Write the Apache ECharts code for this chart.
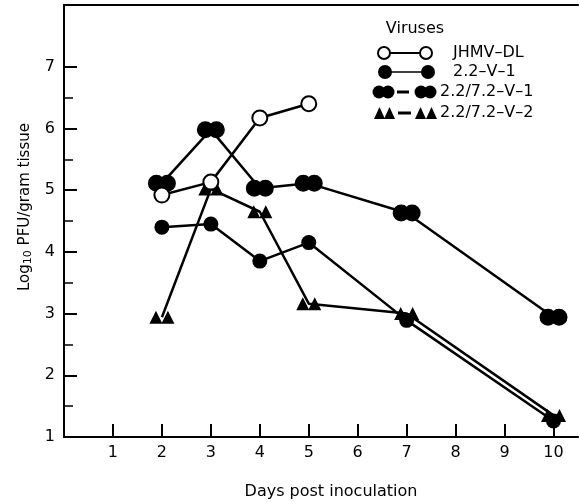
<!DOCTYPE html>
<html>
<head>
<meta charset="utf-8">
<script src="https://cdn.jsdelivr.net/npm/echarts@6/dist/echarts.min.js"></script>
<style>
  html, body { margin: 0; padding: 0; background: #fff; }
  #chart { width: 579px; height: 502px; }
</style>
</head>
<body>
<div id="chart"></div>
<script>
// days post inoculation
const days = [2, 3, 4, 5, 7, 10];
const jhmvDays = [2, 3, 4, 5];
// log10 PFU / gram tissue
const jhmvDL = [4.92, 5.13, 6.17, 6.4];
const v22_1 = [4.4, 4.45, 3.85, 4.15, 2.89, 1.26];
const v7221 = [5.11, 5.98, 5.03, 5.11, 4.63, 2.94];
const v7222 = [2.94, 5.02, 4.65, 3.16, 3.0, 1.35];

const xTicks = [1, 2, 3, 4, 5, 6, 7, 8, 9, 10];
const yTicks = [1, 2, 3, 4, 5, 6, 7];
const yHalfTicks = [1.5, 2.5, 3.5, 4.5, 5.5, 6.5];

const legendNames = ['JHMV–DL', '2.2–V–1', '2.2/7.2–V–1', '2.2/7.2–V–2'];

const FONT = 'DejaVu Sans';
const DOUBLE_CIRCLE = 'path://M0,10A10,10,0,1,0,20,10A10,10,0,1,0,0,10ZM13,10A10,10,0,1,0,33,10A10,10,0,1,0,13,10Z';
const DOUBLE_TRI = 'path://M0,12L6,0L12,12ZM11,12L17,0L23,12Z';

const pairs = (xs, ys) => xs.map((x, i) => [x, ys[i]]);

const chart = echarts.init(document.getElementById('chart'));

const lineStyle = { color: '#000', width: 2.5 };
const legendText = (x, y, text) => ({
  type: 'text', x: x, y: y,
  style: { text: text, fontSize: 16, fontFamily: FONT, fill: '#000', verticalAlign: 'middle' }
});

const option = {
  animation: false,
  grid: { left: 64, right: 1, top: 5, bottom: 65 },
  xAxis: [
    {
      type: 'value', min: 0, max: 10.5,
      axisLine: { lineStyle: { color: '#000', width: 2 } },
      axisTick: { inside: true, length: 13, customValues: xTicks, lineStyle: { color: '#000', width: 2 } },
      axisLabel: { customValues: xTicks, margin: 8, color: '#000', fontSize: 16, fontFamily: FONT },
      splitLine: { show: false }
    },
    {
      type: 'value', min: 0, max: 10.5, position: 'top',
      axisLine: { show: true, lineStyle: { color: '#000', width: 2 } },
      axisTick: { show: false },
      axisLabel: { show: false },
      splitLine: { show: false }
    }
  ],
  yAxis: [
    {
      type: 'value', min: 1, max: 8,
      axisLine: { show: true, lineStyle: { color: '#000', width: 2 } },
      axisTick: { show: true, inside: true, length: 13, customValues: yTicks, lineStyle: { color: '#000', width: 2 } },
      axisLabel: { customValues: yTicks, margin: 9, color: '#000', fontSize: 16, fontFamily: FONT },
      splitLine: { show: false }
    },
    {
      // half-unit ticks
      type: 'value', min: 1, max: 8, position: 'left',
      axisLine: { show: false },
      axisTick: { show: true, inside: true, length: 9, customValues: yHalfTicks, lineStyle: { color: '#000', width: 1.5 } },
      axisLabel: { show: false },
      splitLine: { show: false }
    }
  ],
  series: [
    {
      name: legendNames[2], type: 'line', data: pairs(days, v7221),
      symbol: DOUBLE_CIRCLE, symbolSize: [28, 17], symbolKeepAspect: false,
      itemStyle: { color: '#000' }, lineStyle
    },
    {
      name: legendNames[3], type: 'line', data: pairs(days, v7222),
      symbol: DOUBLE_TRI, symbolSize: [25, 13], symbolKeepAspect: false,
      itemStyle: { color: '#000' }, lineStyle
    },
    {
      name: legendNames[1], type: 'line', data: pairs(days, v22_1),
      symbol: 'circle', symbolSize: 15,
      itemStyle: { color: '#000' }, lineStyle
    },
    {
      name: legendNames[0], type: 'line', data: pairs(jhmvDays, jhmvDL),
      symbol: 'circle', symbolSize: 15,
      itemStyle: { color: '#fff', borderColor: '#000', borderWidth: 2 }, lineStyle
    }
  ],
  graphic: [
    {
      type: 'text', x: 25, y: 207, rotation: Math.PI / 2,
      style: {
        text: '{a|Log}{b|10}{a| PFU/gram tissue}',
        align: 'center', verticalAlign: 'middle', fill: '#000',
        rich: {
          a: { fontSize: 15, lineHeight: 17, fontFamily: FONT },
          b: { fontSize: 11, lineHeight: 12, verticalAlign: 'bottom', fontFamily: FONT }
        }
      }
    },
    {
      type: 'text', x: 331, y: 492,
      style: { text: 'Days post inoculation', fontSize: 16, fontFamily: FONT, fill: '#000', align: 'center', verticalAlign: 'middle' }
    },
    // legend
    { type: 'text', x: 415, y: 29, style: { text: 'Viruses', fontSize: 16, fontFamily: FONT, fill: '#000', align: 'center', verticalAlign: 'middle' } },
    { type: 'line', shape: { x1: 390, y1: 53, x2: 420, y2: 53 }, style: { stroke: '#000', lineWidth: 2 } },
    { type: 'circle', shape: { cx: 384, cy: 53, r: 6 }, style: { fill: '#fff', stroke: '#000', lineWidth: 2 } },
    { type: 'circle', shape: { cx: 426, cy: 53, r: 6 }, style: { fill: '#fff', stroke: '#000', lineWidth: 2 } },
    legendText(453, 53, legendNames[0]),

    { type: 'line', shape: { x1: 390, y1: 72, x2: 422, y2: 72 }, style: { stroke: '#000', lineWidth: 1.5 } },
    { type: 'circle', shape: { cx: 385, cy: 72, r: 7 }, style: { fill: '#000' } },
    { type: 'circle', shape: { cx: 428, cy: 72, r: 7 }, style: { fill: '#000' } },
    legendText(453, 72, legendNames[1]),

    { type: 'line', shape: { x1: 397, y1: 92, x2: 409, y2: 92 }, style: { stroke: '#000', lineWidth: 3 } },
    { type: 'circle', shape: { cx: 379, cy: 92, r: 6.5 }, style: { fill: '#000' } },
    { type: 'circle', shape: { cx: 388, cy: 92, r: 6.5 }, style: { fill: '#000' } },
    { type: 'circle', shape: { cx: 421, cy: 92, r: 6.5 }, style: { fill: '#000' } },
    { type: 'circle', shape: { cx: 430, cy: 92, r: 6.5 }, style: { fill: '#000' } },
    legendText(440, 92, legendNames[2]),

    { type: 'line', shape: { x1: 398, y1: 113, x2: 411, y2: 113 }, style: { stroke: '#000', lineWidth: 3 } },
    { type: 'polygon', shape: { points: [[374, 119], [379.5, 107], [385, 119]] }, style: { fill: '#000' } },
    { type: 'polygon', shape: { points: [[384, 119], [389.5, 107], [395, 119]] }, style: { fill: '#000' } },
    { type: 'polygon', shape: { points: [[415, 119], [420.5, 107], [426, 119]] }, style: { fill: '#000' } },
    { type: 'polygon', shape: { points: [[426, 119], [431.5, 107], [437, 119]] }, style: { fill: '#000' } },
    legendText(440, 113, legendNames[3])
  ]
};

chart.setOption(option);
</script>
</body>
</html>
